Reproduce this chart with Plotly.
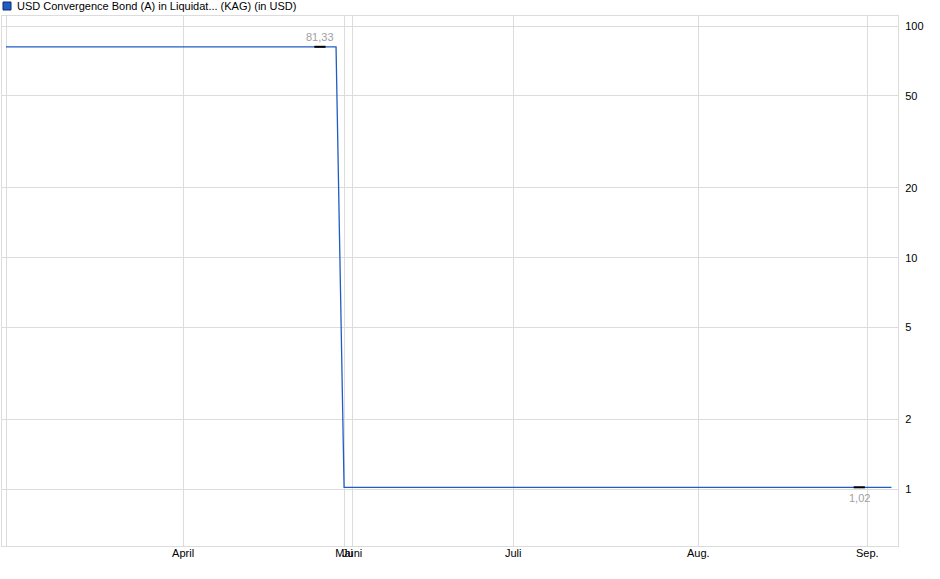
import math
import plotly.graph_objects as go

# ---- data ----
trade_day = [0, 41, 42, 110]          # trading-day index
price = [81.33, 81.33, 1.02, 1.02]    # USD

extreme_day = [39, 106]
extreme_val = [81.33, 1.02]
extreme_lbl = ["81,33", "1,02"]

month_day = [0, 22, 42, 43, 63, 86, 107]
month_lbl = ["", "April", "Mai", "Juni", "Juli", "Aug.", "Sep."]

y_ticks = [1, 2, 5, 10, 20, 50, 100]

title = "USD Convergence Bond (A) in Liquidat... (KAG) (in USD)"

FONT = "Liberation Sans, Arial, sans-serif"
BLUE = "#1f5cc4"
GRID = "#dcdcdc"

fig = go.Figure()
fig.add_trace(go.Scatter(x=trade_day, y=price, mode="lines",
                         line=dict(color=BLUE, width=1.3), hoverinfo="skip"))
fig.add_trace(go.Scatter(x=extreme_day, y=extreme_val, mode="markers",
                         marker=dict(symbol="line-ew", size=8,
                                     line=dict(color="#000", width=2)),
                         hoverinfo="skip"))

for d, v, t, sh in zip(extreme_day, extreme_val, extreme_lbl, [10, -11]):
    fig.add_annotation(x=d, y=math.log10(v), text=t, showarrow=False,
                       yshift=sh, font=dict(family=FONT, size=11, color="#a0a0a0"))

fig.add_annotation(xref="paper", yref="paper", x=(15 - 2) / 896, y=(546 - 6) / 530,
                   xanchor="left", yanchor="middle", text=title, showarrow=False,
                   font=dict(family=FONT, size=11, color="#000"))
fig.add_shape(type="rect", xref="paper", yref="paper",
              x0=(3 - 2) / 896, x1=(11 - 2) / 896,
              y0=(546 - 2) / 530, y1=(546 - 10) / 530,
              fillcolor=BLUE, line=dict(color="#0a2a6a", width=1))

fig.update_layout(
    width=940, height=579,
    margin=dict(l=2, r=42, t=16, b=33),
    paper_bgcolor="white", plot_bgcolor="white",
    showlegend=False,
    font=dict(family=FONT, size=11, color="#000"),
    xaxis=dict(range=[-0.497, 110.81], tickmode="array", tickvals=month_day,
               ticktext=month_lbl, showgrid=True, gridcolor=GRID, gridwidth=1,
               zeroline=False, showline=True, linecolor=GRID, linewidth=1,
               mirror=True, ticks="", ticklabelstandoff=-3, tickangle=0,
               tickfont=dict(family=FONT, size=11, color="#000")),
    yaxis=dict(type="log", range=[-0.2448, 2.0432], side="right",
               tickmode="array", tickvals=y_ticks,
               ticktext=[str(v) for v in y_ticks],
               showgrid=True, gridcolor=GRID, gridwidth=1, zeroline=False,
               showline=True, linecolor=GRID, linewidth=1, mirror=True,
               ticks="", ticklabelstandoff=4,
               tickfont=dict(family=FONT, size=11, color="#000")),
)

fig.write_html("out.html", config={"displayModeBar": False},
               post_script="document.body.style.margin='0';document.body.style.overflow='hidden';")
